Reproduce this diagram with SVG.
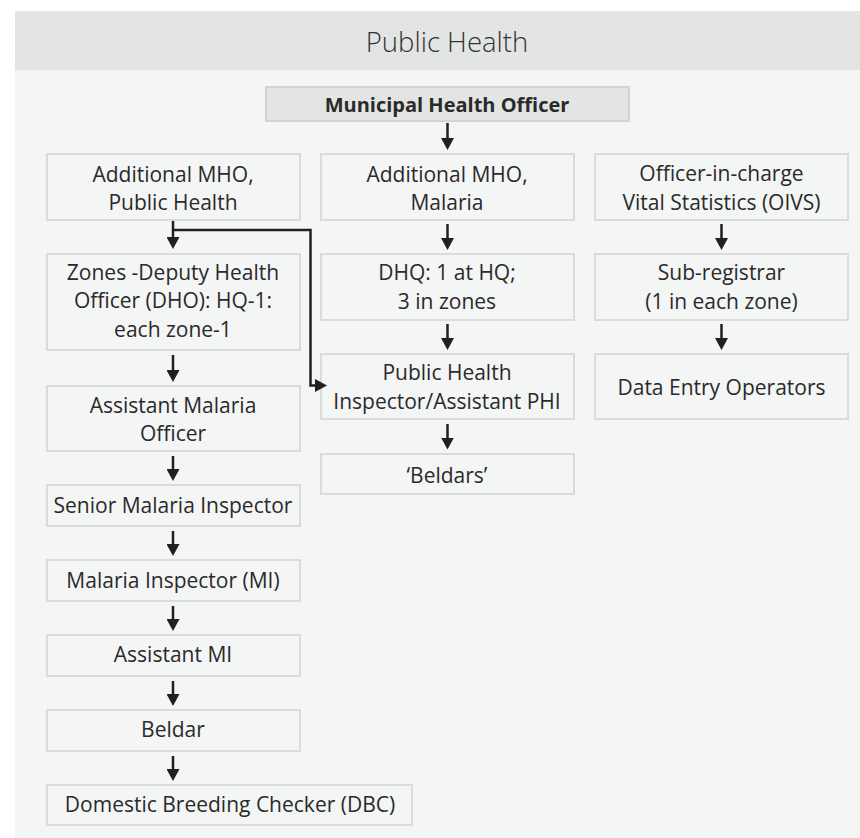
<svg xmlns="http://www.w3.org/2000/svg" width="860" height="838" viewBox="0 0 860 838">
  <style>
    .box { fill: #f4f5f5; stroke: #dadcdc; stroke-width: 2; }
    .head { fill: #e3e4e4; stroke: #d3d5d5; stroke-width: 2; }
    .t { font-family: "Open Sans", "Noto Sans", "Liberation Sans", sans-serif; font-size: 21px; fill: #2a2a2a; text-anchor: middle; }
    .tb { font-weight: 700; font-size: 20px; }
    .title { font-family: "Open Sans", "Noto Sans", "Liberation Sans", sans-serif; font-size: 27.5px; font-weight: 300; fill: #333; text-anchor: middle; }
    .c { fill: none; stroke: #231f20; stroke-width: 2.5; }
  </style>
  <defs>
    <marker id="arr" viewBox="0 0 12 13" refX="6" refY="6.5" markerWidth="12" markerHeight="13" markerUnits="userSpaceOnUse" orient="auto">
      <path d="M0,0 L12,6.5 L0,13 z" fill="#231f20"/>
    </marker>
  </defs>

  <!-- panel -->
  <rect x="15" y="11" width="845" height="59" fill="#e3e4e4"/>
  <rect x="15" y="70" width="845" height="768" fill="#f4f5f5"/>
  <text class="title" x="447" y="52">Public Health</text>

  <!-- top node -->
  <g id="mho">
    <rect class="head" x="266" y="87" width="363" height="34"/>
    <text class="t tb" x="447" y="112">Municipal Health Officer</text>
  </g>

  <!-- column 1 -->
  <g id="add-mho-ph">
    <rect class="box" x="47" y="154" width="253" height="66"/>
    <text class="t" x="173" y="182">Additional MHO,</text>
    <text class="t" x="173" y="210">Public Health</text>
  </g>
  <g id="dho">
    <rect class="box" x="47" y="254" width="253" height="96"/>
    <text class="t" x="173" y="280">Zones -Deputy Health</text>
    <text class="t" x="173" y="308">Officer (DHO): HQ-1:</text>
    <text class="t" x="173" y="336.5">each zone-1</text>
  </g>
  <g id="amo">
    <rect class="box" x="47" y="386" width="253" height="65"/>
    <text class="t" x="173" y="412.5">Assistant Malaria</text>
    <text class="t" x="173" y="440.5">Officer</text>
  </g>
  <g id="smi">
    <rect class="box" x="47" y="485" width="253" height="41"/>
    <text class="t" x="173" y="513">Senior Malaria Inspector</text>
  </g>
  <g id="mi">
    <rect class="box" x="47" y="560" width="253" height="41"/>
    <text class="t" x="173" y="588">Malaria Inspector (MI)</text>
  </g>
  <g id="ami">
    <rect class="box" x="47" y="635" width="253" height="41"/>
    <text class="t" x="173" y="661.5">Assistant MI</text>
  </g>
  <g id="beldar">
    <rect class="box" x="47" y="710" width="253" height="41"/>
    <text class="t" x="173" y="736.5">Beldar</text>
  </g>
  <g id="dbc">
    <rect class="box" x="47" y="785" width="365" height="40"/>
    <text class="t" x="230" y="811.5">Domestic Breeding Checker (DBC)</text>
  </g>

  <!-- column 2 -->
  <g id="add-mho-malaria">
    <rect class="box" x="321" y="154" width="253" height="66"/>
    <text class="t" x="447" y="182">Additional MHO,</text>
    <text class="t" x="447" y="210">Malaria</text>
  </g>
  <g id="dhq">
    <rect class="box" x="321" y="254" width="253" height="66"/>
    <text class="t" x="447" y="280">DHQ: 1 at HQ;</text>
    <text class="t" x="447" y="309">3 in zones</text>
  </g>
  <g id="phi">
    <rect class="box" x="321" y="354" width="253" height="65"/>
    <text class="t" x="447" y="380">Public Health</text>
    <text class="t" x="447" y="409">Inspector/Assistant PHI</text>
  </g>
  <g id="beldars">
    <rect class="box" x="321" y="454" width="253" height="40"/>
    <text class="t" x="447" y="482.5">‘Beldars’</text>
  </g>

  <!-- column 3 -->
  <g id="oivs">
    <rect class="box" x="595" y="154" width="253" height="66"/>
    <text class="t" x="721.5" y="181">Officer-in-charge</text>
    <text class="t" x="721.5" y="209.5">Vital Statistics (OIVS)</text>
  </g>
  <g id="subregistrar">
    <rect class="box" x="595" y="254" width="253" height="66"/>
    <text class="t" x="721.5" y="280">Sub-registrar</text>
    <text class="t" x="721.5" y="309">(1 in each zone)</text>
  </g>
  <g id="deo">
    <rect class="box" x="595" y="354" width="253" height="65"/>
    <text class="t" x="721.5" y="395">Data Entry Operators</text>
  </g>

  <!-- connectors -->
  <g id="connectors">
    <path class="c" marker-end="url(#arr)" d="M447.5,123 V144"/>
    <path class="c" marker-end="url(#arr)" d="M173,221 V243"/>
    <path class="c" marker-end="url(#arr)" d="M173,230 H310.5 V385.5 H321"/>
    <path class="c" marker-end="url(#arr)" d="M173,355 V376"/>
    <path class="c" marker-end="url(#arr)" d="M173,456 V475"/>
    <path class="c" marker-end="url(#arr)" d="M173,531 V550"/>
    <path class="c" marker-end="url(#arr)" d="M173,606 V625"/>
    <path class="c" marker-end="url(#arr)" d="M173,681 V700"/>
    <path class="c" marker-end="url(#arr)" d="M173,756 V775"/>
    <path class="c" marker-end="url(#arr)" d="M447.5,224 V244"/>
    <path class="c" marker-end="url(#arr)" d="M447.5,324 V344"/>
    <path class="c" marker-end="url(#arr)" d="M447.5,424 V443.5"/>
    <path class="c" marker-end="url(#arr)" d="M721.5,224 V244"/>
    <path class="c" marker-end="url(#arr)" d="M721.5,324 V344"/>
  </g>
</svg>
